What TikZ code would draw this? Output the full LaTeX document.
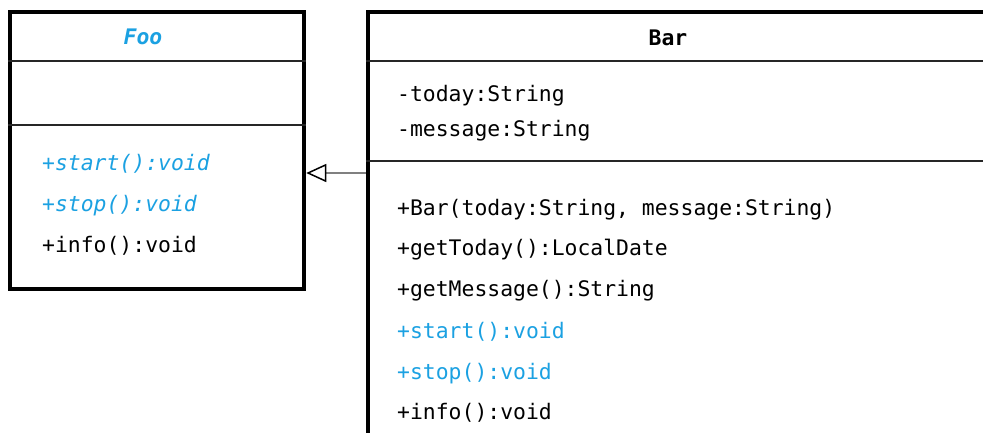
\documentclass[tikz,border=0pt]{standalone}
\usepackage{fontspec}
\setmonofont{DejaVu Sans Mono}
\usetikzlibrary{arrows.meta}
\definecolor{umlblue}{RGB}{27,161,226}
\tikzset{
  classbox/.style={draw=black, line width=4.5pt, inner sep=0pt, outer sep=2.25pt, fill=white},
  divider/.style={draw=black!85, line width=2.5pt},
  txt/.style={font=\ttfamily\fontsize{21.4}{25}\selectfont, anchor=base west, inner sep=0pt, text=black},
  ttl/.style={txt, anchor=base},
  abstr/.style={text=umlblue},
  gen/.style={draw=black!50, line width=1.5pt, -{Triangle[color=black, fill=white, length=20pt, width=18pt, line width=1.5pt]}}
}
\begin{document}
\begin{tikzpicture}[x=1pt, y=-1pt]
\useasboundingbox (0,0) rectangle (983,432);
\clip (0,0) rectangle (983,432);
% Foo class
\node[classbox, minimum width=294pt, minimum height=277pt] (foo) at (157,150.5) {};
\draw[divider] (foo.west |- 0,61) -- (foo.east |- 0,61);
\draw[divider] (foo.west |- 0,125) -- (foo.east |- 0,125);
\node[ttl, abstr, font=\ttfamily\bfseries\itshape\fontsize{21.4}{25}\selectfont] (footitle) at (143,44) {Foo};
\node[txt, abstr, font=\ttfamily\itshape\fontsize{21.4}{25}\selectfont] (foostart) at (42,170) {+start():void};
\node[txt, abstr, font=\ttfamily\itshape\fontsize{21.4}{25}\selectfont] (foostop) at (42,211) {+stop():void};
\node[txt] (fooinfo) at (42,252) {+info():void};
% Bar class
\node[classbox, minimum width=700pt, minimum height=500pt] (bar) at (718,262) {};
\draw[divider] (bar.west |- 0,61) -- (bar.east |- 0,61);
\draw[divider] (bar.west |- 0,161) -- (bar.east |- 0,161);
\node[ttl, font=\ttfamily\bfseries\fontsize{21.4}{25}\selectfont] (bartitle) at (668,45) {Bar};
\node[txt] (battr1) at (397,101) {-today:String};
\node[txt] (battr2) at (397,136) {-message:String};
\node[txt] (bm1) at (397,215) {+Bar(today:String, message:String)};
\node[txt] (bm2) at (397,255) {+getToday():LocalDate};
\node[txt] (bm3) at (397,296) {+getMessage():String};
\node[txt, abstr] (bm4) at (397,338) {+start():void};
\node[txt, abstr] (bm5) at (397,379) {+stop():void};
\node[txt] (bm6) at (397,419) {+info():void};
% generalization
\draw[gen] (bar.west |- 0,173) -- (foo.east |- 0,173);
\end{tikzpicture}
\end{document}
